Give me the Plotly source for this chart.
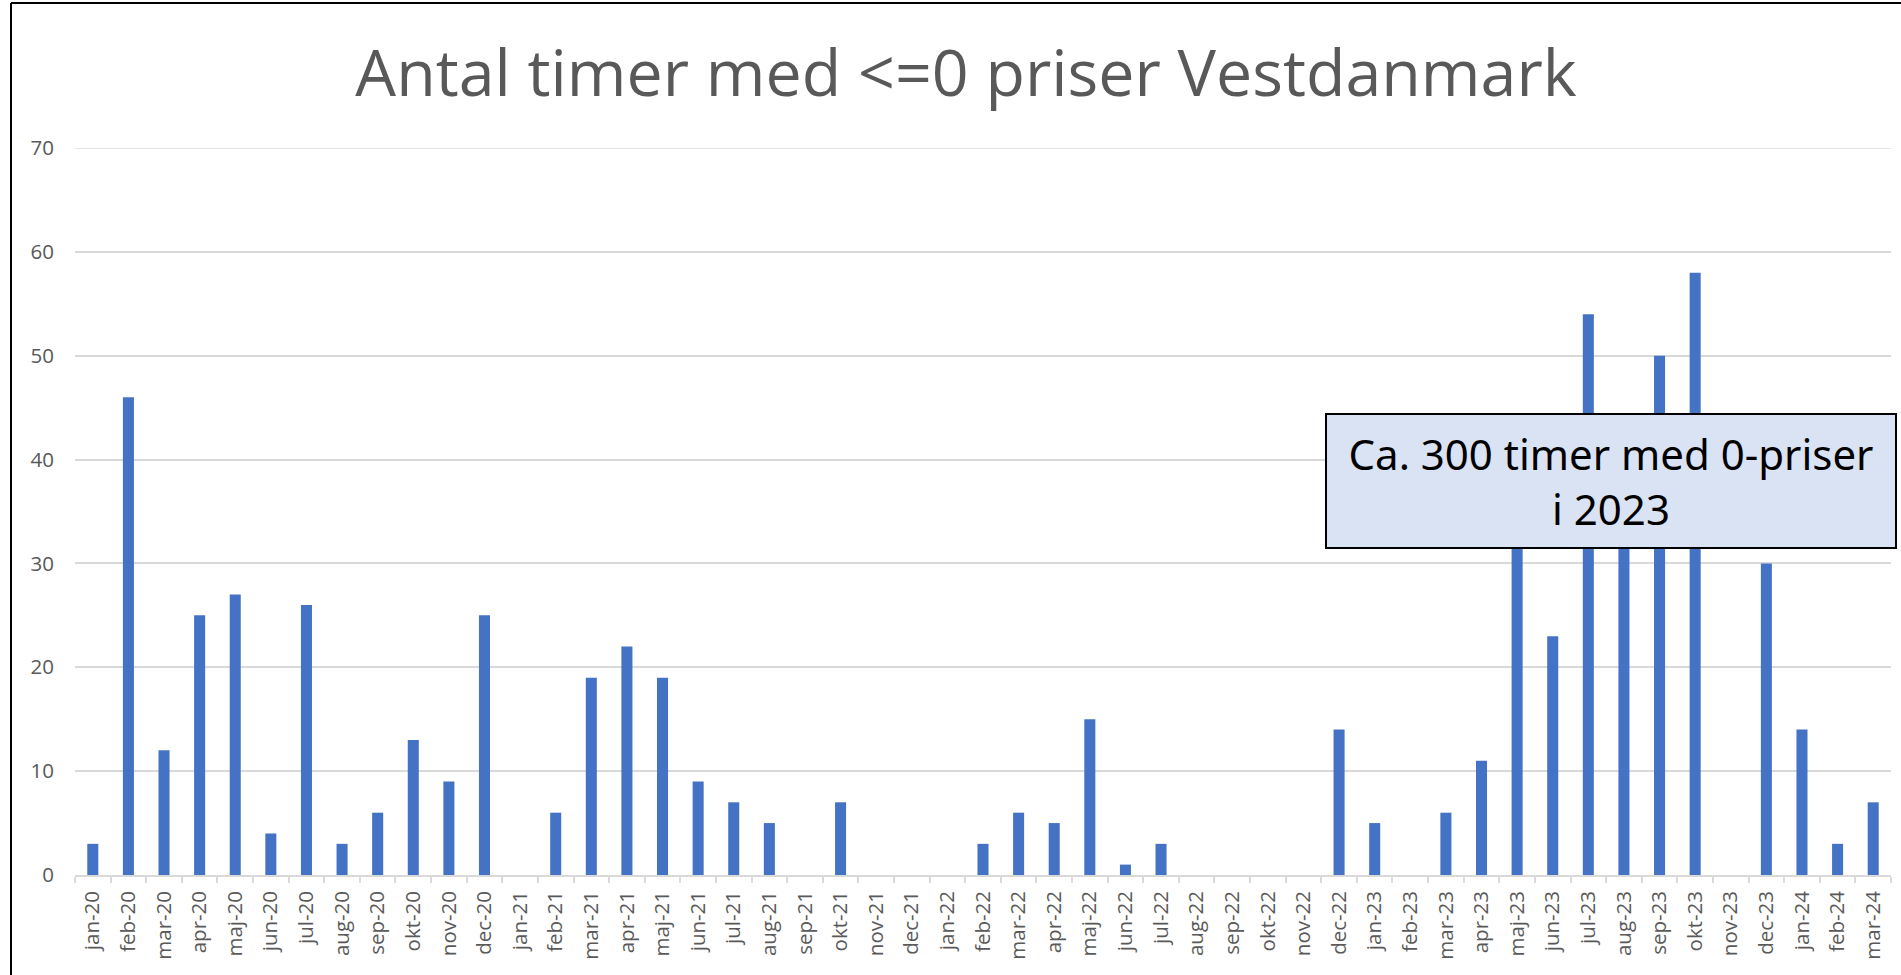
import plotly.graph_objects as go

months = ["jan-20", "feb-20", "mar-20", "apr-20", "maj-20", "jun-20", "jul-20", "aug-20", "sep-20", "okt-20", "nov-20", "dec-20",
          "jan-21", "feb-21", "mar-21", "apr-21", "maj-21", "jun-21", "jul-21", "aug-21", "sep-21", "okt-21", "nov-21", "dec-21",
          "jan-22", "feb-22", "mar-22", "apr-22", "maj-22", "jun-22", "jul-22", "aug-22", "sep-22", "okt-22", "nov-22", "dec-22",
          "jan-23", "feb-23", "mar-23", "apr-23", "maj-23", "jun-23", "jul-23", "aug-23", "sep-23", "okt-23", "nov-23", "dec-23",
          "jan-24", "feb-24", "mar-24"]
hours = [3, 46, 12, 25, 27, 4, 26, 3, 6, 13, 9, 25,
         0, 6, 19, 22, 19, 9, 7, 5, 0, 7, 0, 0,
         0, 3, 6, 5, 15, 1, 3, 0, 0, 0, 0, 14,
         5, 0, 6, 11, 33, 23, 54, 36, 50, 58, 0, 30,
         14, 3, 7]
y_ticks = [0, 10, 20, 30, 40, 50, 60, 70]

title_text = "Antal timer med <=0 priser Vestdanmark"
note_text = "Ca. 300 timer med 0-priser<br>i 2023"

W, H = 1901, 975
L, R, T, B = 75, 10, 148, 100

fig = go.Figure()
fig.add_trace(go.Bar(x=months, y=hours, marker=dict(color="#4472c4", line=dict(width=0)),
                     hoverinfo="x+y"))

def px_x(p):
    return (p - L) / (W - L - R)

def px_y(p):
    return (H - B - p) / (H - T - B)

fig.update_layout(
    width=W, height=H,
    margin=dict(l=L, r=R, t=T, b=B, pad=0),
    paper_bgcolor="white", plot_bgcolor="white",
    bargap=0.69,
    showlegend=False,
    font=dict(family="Open Sans", color="#595959"),
    title=dict(text=title_text, x=966 / W, xanchor="center", y=1 - 73 / H, yanchor="middle",
               xref="container", yref="container",
               font=dict(size=64.5, color="#595959", family="Open Sans")),
    xaxis=dict(type="category", tickangle=-90, tickfont=dict(size=20.5, color="#595959"),
               showgrid=False, showline=True, linecolor="#d9d9d9", linewidth=1.5,
               ticks="outside", tickson="boundaries", ticklen=6, tickcolor="#d9d9d9",
               tickwidth=1.5, ticklabelstandoff=6, fixedrange=True),
    yaxis=dict(range=[0, 70], tickvals=y_ticks, tickfont=dict(size=20.5, color="#595959"),
               showgrid=True, gridcolor="#d9d9d9", gridwidth=1.5, zeroline=False,
               showline=False, ticks="", ticklabelstandoff=20, fixedrange=True),
    annotations=[dict(text=note_text, xref="paper", yref="paper",
                      x=px_x(1611), y=px_y(481), xanchor="center", yanchor="middle",
                      showarrow=False, font=dict(size=42, color="black", family="Noto Sans"),
                      bgcolor="#dae3f3", bordercolor="black", borderwidth=2, borderpad=0,
                      width=568, height=132, align="center")],
    shapes=[
        dict(type="line", xref="paper", yref="y", x0=0, x1=1, y0=70, y1=70,
             line=dict(color="#d9d9d9", width=1.5), layer="below"),
        dict(type="line", xref="paper", yref="paper", x0=px_x(11), x1=px_x(W), y0=px_y(3), y1=px_y(3),
             line=dict(color="black", width=2)),
        dict(type="line", xref="paper", yref="paper", x0=px_x(11), x1=px_x(11), y0=px_y(3), y1=px_y(H),
             line=dict(color="black", width=2)),
    ],
)

fig.write_html("out.html", config={"displayModeBar": False},
               post_script="document.body.style.margin='0';document.body.style.overflow='hidden';")
